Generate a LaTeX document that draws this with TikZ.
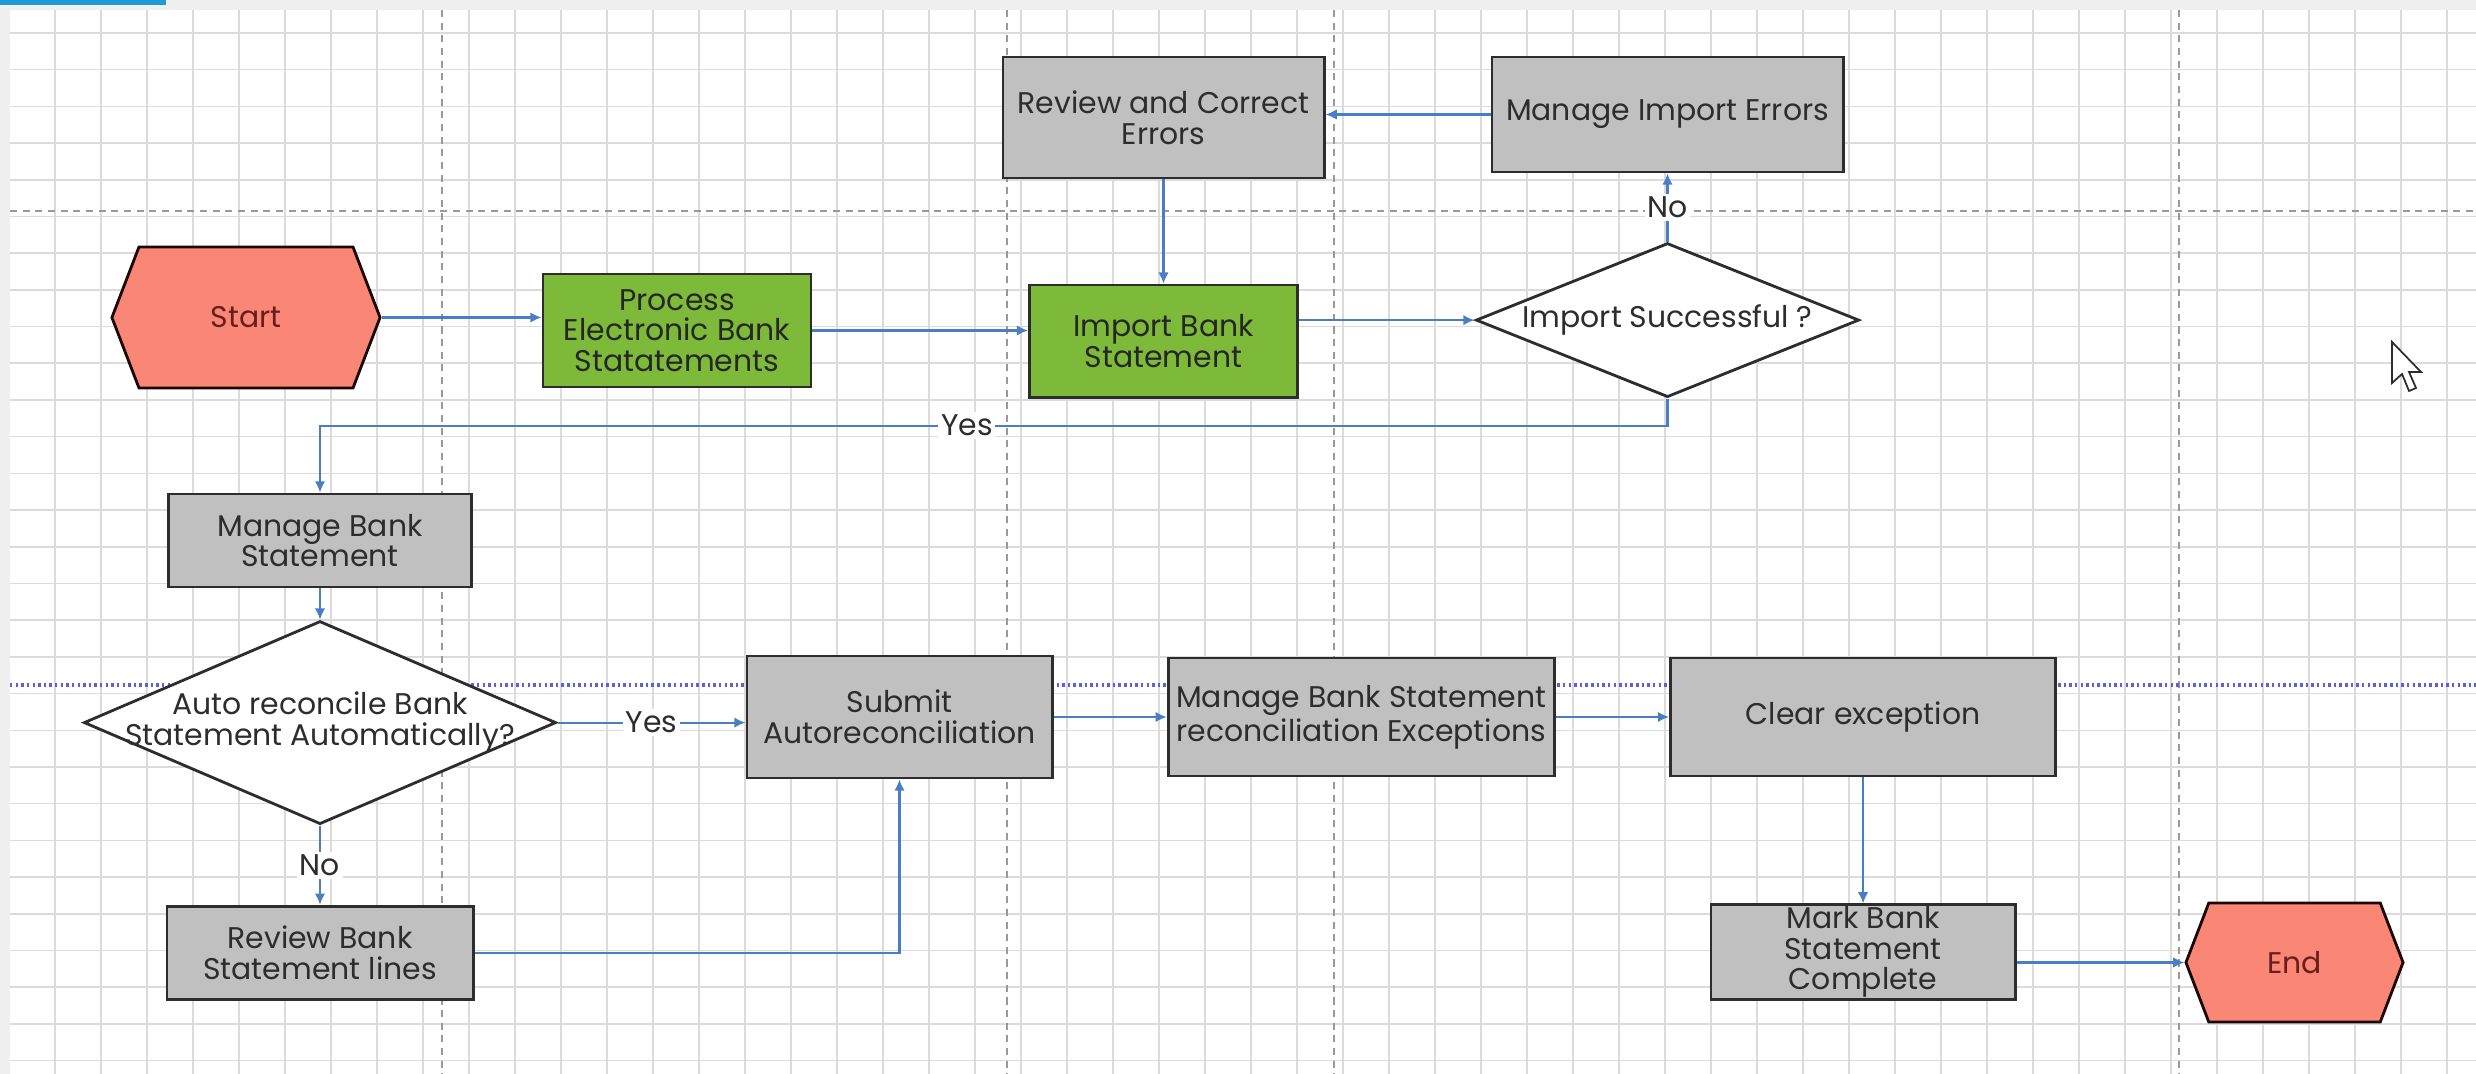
\documentclass[tikz,border=0pt]{standalone}
\usepackage{fontspec}
\setmainfont{Poppins}
\usepackage{tikz}
\usetikzlibrary{arrows.meta}
\usetikzlibrary{positioning}
\usetikzlibrary{shapes.geometric}
\usetikzlibrary{shapes.symbols}
\definecolor{stepgrey}{RGB}{192,192,192}
\definecolor{stepgreen}{RGB}{125,186,57}
\definecolor{salmon}{RGB}{250,134,118}
\definecolor{maroon}{RGB}{105,30,30}
\definecolor{flowblue}{RGB}{74,126,196}
\definecolor{tabblue}{RGB}{30,155,215}
\definecolor{inkgrey}{RGB}{45,45,45}
\definecolor{laneblue}{RGB}{95,95,220}
\tikzset{>=latex}
\tikzset{
    flow/.style = {draw=flowblue, line width=0.6pt, -{Latex[length=3.2pt,width=3pt]}},
    gridline/.style = {black!14, line width=0.45pt},
    pagebreak/.style = {black!40, line width=0.4pt, dash pattern=on 2pt off 1.6pt},
    swimline/.style = {laneblue, line width=1pt, dash pattern=on 0.7pt off 0.9pt},
}
\newcommand\stepfont{\fontsize{8.5}{8.7}\selectfont}
\tikzset{
    stepbox/.style={draw=inkgrey, line width=0.8pt, fill=stepgrey, text=inkgrey, font=\stepfont, align=center, inner sep=0.5pt},
    greenbox/.style={stepbox, fill=stepgreen, text=black!85},
    terminal/.style={signal, signal to=west and east, signal pointer angle=138, draw=black!75!maroon, line width=0.8pt, fill=salmon, text=maroon, font=\stepfont, inner sep=0.5pt},
    decision/.style={diamond, draw=inkgrey, line width=0.8pt, fill=white, text=inkgrey, font=\stepfont, align=center, inner sep=0.5pt},
    yesno/.style={fill=white, text=inkgrey, font=\stepfont, inner sep=0.8pt},
}

\begin{document}
\begin{tikzpicture}[x=0.01cm, y=-0.01cm, on grid]
    \useasboundingbox (0,0) rectangle (2476,1074);
    % canvas
    \fill[black!6] (0,0) rectangle (2476,1074);
    \fill[white] (10,10) rectangle (2476,1074);
    \fill[tabblue] (0,0) rectangle (166,5);
    \foreach \gx in {0,...,52} \draw[gridline] ({55+46*\gx},10) -- ({55+46*\gx},1074);
    \foreach \gy in {0,...,28} \draw[gridline] (10,{33+36.7*\gy}) -- (2476,{33+36.7*\gy});
    \foreach \px in {442,1007,1334,2179} \draw[pagebreak] (\px,10) -- (\px,1074);
    \draw[pagebreak] (10,211) -- (2476,211);
    \draw[swimline] (10,685) -- (2476,685);

    % import row
    \node[terminal, minimum width=2.68cm, minimum height=1.41cm] (start) at (246,317.5) {Start};
    \node[greenbox, minimum width=2.68cm, minimum height=1.13cm] (proc) at (677,330.5) {Process\\Electronic Bank\\Statatements};
    \node[stepbox, minimum width=3.21cm, minimum height=1.21cm] (review) at (1163.5,117.5) {Review and Correct\\Errors};
    \node[greenbox, minimum width=2.68cm, minimum height=1.12cm, below=2.235cm of review] (imp) {Import Bank\\Statement};
    \node[stepbox, minimum width=3.51cm, minimum height=1.15cm] (mie) at (1667.5,114.5) {Manage Import Errors};
    \node[decision, aspect=2.49, minimum width=3.83cm, minimum height=1.54cm, below=2.055cm of mie] (isucc) {Import Successful ?};

    % reconcile column
    \node[stepbox, minimum width=3.03cm, minimum height=0.93cm] (mbs) at (320,540.5) {Manage Bank\\Statement};
    \node[decision, aspect=2.33, inner xsep=-0.5cm, minimum width=4.72cm, minimum height=2.03cm, below=1.82cm of mbs] (auto) {Auto reconcile Bank\\Statement Automatically?};
    \node[stepbox, minimum width=3.06cm, minimum height=0.93cm, below=2.3cm of auto] (rbsl) {Review Bank\\Statement lines};

    % exceptions row
    \node[stepbox, minimum width=3.05cm, minimum height=1.22cm] (submit) at (899.5,717) {Submit\\Autoreconciliation};
    \node[stepbox, minimum width=3.86cm, minimum height=1.18cm, right=4.615cm of submit] (mbsre) {Manage Bank Statement\\reconciliation Exceptions};
    \node[stepbox, minimum width=3.85cm, minimum height=1.18cm, right=5.015cm of mbsre] (clear) {Clear exception};
    \node[stepbox, minimum width=3.04cm, minimum height=0.92cm, below=2.35cm of clear] (mark) {Mark Bank\\Statement\\Complete};
    \node[terminal, minimum width=2.17cm, minimum height=1.19cm] (end) at (2294.5,962.5) {End};

    % connectors
    \draw[flow] (start.east) -- (start.east -| proc.west);
    \draw[flow] (proc.east) -- (proc.east -| imp.west);
    \draw[flow] (imp.east |- isucc.west) -- (isucc.west);
    \draw[flow] (isucc.north) -- node[yesno] {No} (mie.south);
    \draw[flow] (mie.west) -- (mie.west -| review.east);
    \draw[flow] (review.south) -- (imp.north);
    \draw[flow] (isucc.south) -- ++(0,27) -| node[yesno, pos=0.26] {Yes} (mbs.north);
    \draw[flow] (mbs.south) -- (auto.north);
    \draw[flow] (auto.east) -- node[yesno] {Yes} (auto.east -| submit.west);
    \draw[flow] (auto.south) -- node[yesno] {No} (rbsl.north);
    \draw[flow] (rbsl.east) -| (submit.south);
    \draw[flow] (submit.east) -- (mbsre.west);
    \draw[flow] (mbsre.east) -- (clear.west);
    \draw[flow] (clear.south) -- (mark.north);
    \draw[flow] (mark.east |- end.west) -- (end.west);

    % pointer
    \draw[inkgrey, fill=white, line width=0.5pt] (2392,342) -- ++(0,41) -- ++(10,-9) -- ++(7,17) -- ++(7,-3) -- ++(-7,-16) -- ++(12,0) -- cycle;
\end{tikzpicture}
\end{document}
